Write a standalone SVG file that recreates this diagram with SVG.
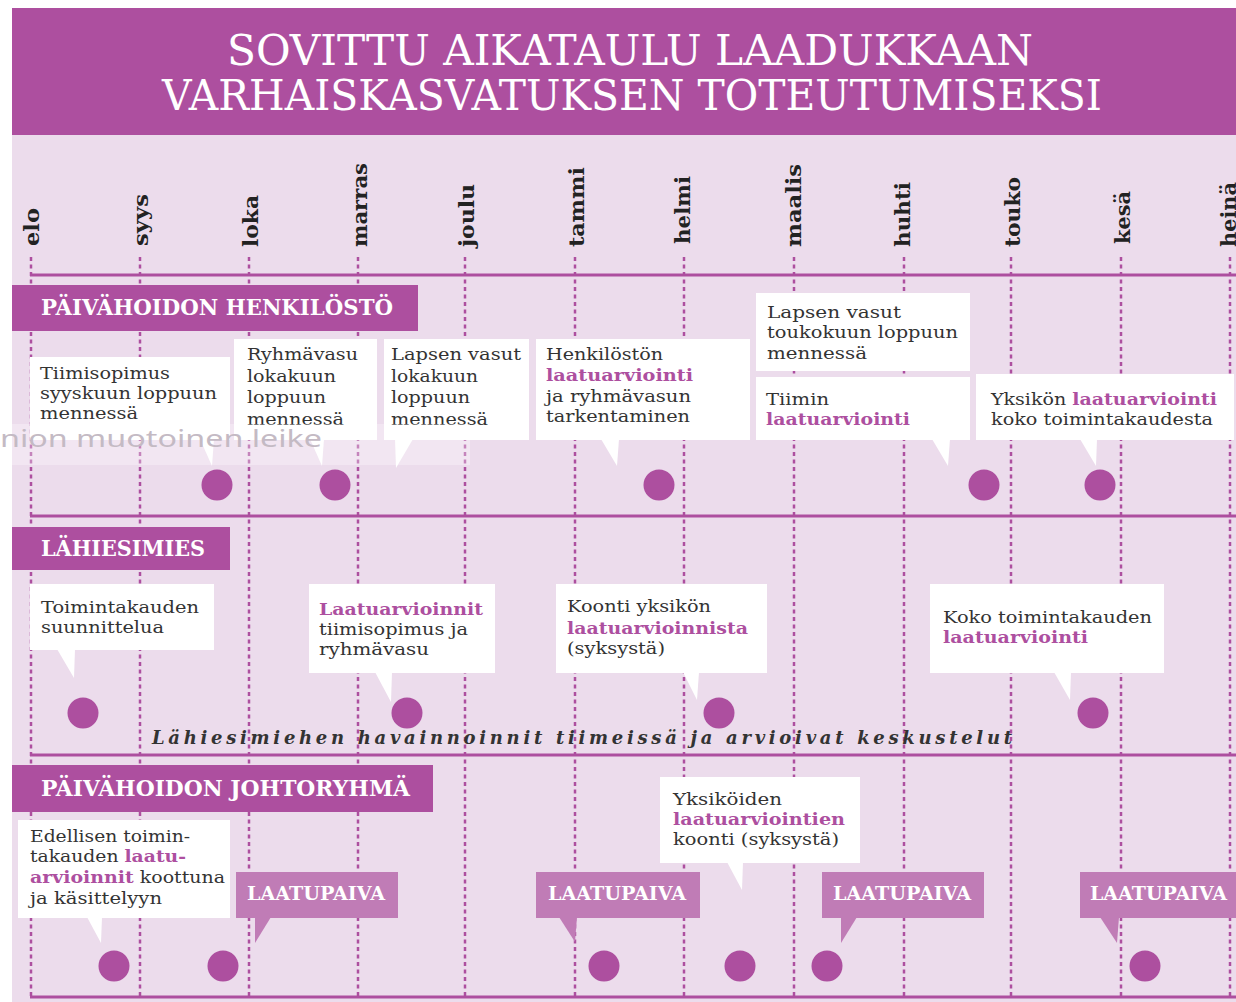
<svg xmlns="http://www.w3.org/2000/svg" width="1236" height="1002" viewBox="0 0 1236 1002">
<style>
.title{font-family:"DejaVu Serif","Liberation Serif",serif;font-size:42px;fill:#fff}
.month{font-family:"DejaVu Serif","Liberation Serif",serif;font-size:20px;font-weight:bold;fill:#222}
.sec{font-family:"DejaVu Serif","Liberation Serif",serif;font-size:22px;font-weight:bold;fill:#fff}
.lp{font-family:"DejaVu Serif","Liberation Serif",serif;font-size:19px;font-weight:bold;fill:#fff}
.t{font-family:"DejaVu Serif","Liberation Serif",serif;font-size:16px;fill:#333}
.h{fill:#ad4f9f;font-weight:bold}
.box{fill:#fff}
.lbl{fill:#ad4f9f}
.lpbg{fill:#c07cb6}
.dot{fill:#ad4f9f}
.vl{stroke:#ad4f9f;stroke-width:2.5;stroke-dasharray:4 3.5;fill:none}
.hl{stroke:#ad4f9f;stroke-width:3;fill:none}
.it{font-family:"DejaVu Serif","Liberation Serif",serif;font-size:18px;font-weight:bold;font-style:italic;fill:#333}
</style>
<rect x="0" y="0" width="1236" height="1002" fill="#fff"/>
<rect x="12" y="135" width="1224" height="867" fill="#ecdcec"/>
<g id="header">
<rect x="12" y="8" width="1224" height="127" fill="#ad4f9f"/>
<text class="title" x="227" y="65" textLength="806" lengthAdjust="spacingAndGlyphs">SOVITTU AIKATAULU LAADUKKAAN</text>
<text class="title" x="162" y="110" textLength="940" lengthAdjust="spacingAndGlyphs">VARHAISKASVATUKSEN TOTEUTUMISEKSI</text>
</g>
<g id="months">
<text class="month" transform="translate(39,246) rotate(-90)" textLength="38" lengthAdjust="spacingAndGlyphs">elo</text>
<text class="month" transform="translate(148,246) rotate(-90)" textLength="52" lengthAdjust="spacingAndGlyphs">syys</text>
<text class="month" transform="translate(258,247) rotate(-90)" textLength="52" lengthAdjust="spacingAndGlyphs">loka</text>
<text class="month" transform="translate(367,247) rotate(-90)" textLength="84" lengthAdjust="spacingAndGlyphs">marras</text>
<text class="month" transform="translate(474,247) rotate(-90)" textLength="63" lengthAdjust="spacingAndGlyphs">joulu</text>
<text class="month" transform="translate(584,247) rotate(-90)" textLength="80" lengthAdjust="spacingAndGlyphs">tammi</text>
<text class="month" transform="translate(690,244) rotate(-90)" textLength="68" lengthAdjust="spacingAndGlyphs">helmi</text>
<text class="month" transform="translate(801,247) rotate(-90)" textLength="83" lengthAdjust="spacingAndGlyphs">maalis</text>
<text class="month" transform="translate(910,247) rotate(-90)" textLength="65" lengthAdjust="spacingAndGlyphs">huhti</text>
<text class="month" transform="translate(1020,247) rotate(-90)" textLength="70" lengthAdjust="spacingAndGlyphs">touko</text>
<text class="month" transform="translate(1130,244) rotate(-90)" textLength="53" lengthAdjust="spacingAndGlyphs">kesä</text>
<text class="month" transform="translate(1236,247) rotate(-90)" textLength="65" lengthAdjust="spacingAndGlyphs">heinä</text>
</g>
<g id="connectors">
<g id="grid-vertical">
<line class="vl" x1="31" y1="257" x2="31" y2="998"/>
<line class="vl" x1="140" y1="257" x2="140" y2="998"/>
<line class="vl" x1="249" y1="257" x2="249" y2="998"/>
<line class="vl" x1="358" y1="257" x2="358" y2="998"/>
<line class="vl" x1="465" y1="257" x2="465" y2="998"/>
<line class="vl" x1="575" y1="257" x2="575" y2="998"/>
<line class="vl" x1="684" y1="257" x2="684" y2="998"/>
<line class="vl" x1="794" y1="257" x2="794" y2="998"/>
<line class="vl" x1="904" y1="257" x2="904" y2="998"/>
<line class="vl" x1="1011" y1="257" x2="1011" y2="998"/>
<line class="vl" x1="1121" y1="257" x2="1121" y2="998"/>
<line class="vl" x1="1230" y1="257" x2="1230" y2="998"/>
</g>
<g id="grid-horizontal">
<line class="hl" x1="30" y1="275" x2="1236" y2="275"/>
<line class="hl" x1="30" y1="516" x2="1236" y2="516"/>
<line class="hl" x1="30" y1="755" x2="1236" y2="755"/>
<line class="hl" x1="30" y1="997" x2="1236" y2="997"/>
</g>
</g>
<g id="sec-henkilosto">
<rect class="lbl" x="12" y="285" width="406" height="46"/>
<text class="sec" x="41" y="315" textLength="352" lengthAdjust="spacingAndGlyphs">PÄIVÄHOIDON HENKILÖSTÖ</text>
</g>
<g id="sec-lahiesimies">
<rect class="lbl" x="12" y="527" width="218" height="43"/>
<text class="sec" x="41" y="556" textLength="164" lengthAdjust="spacingAndGlyphs">LÄHIESIMIES</text>
</g>
<g id="sec-johtoryhma">
<rect class="lbl" x="12" y="765" width="421" height="47"/>
<text class="sec" x="41" y="796" textLength="369" lengthAdjust="spacingAndGlyphs">PÄIVÄHOIDON JOHTORYHMÄ</text>
</g>
<g id="b1">
<rect class="box" x="30" y="357" width="200" height="83"/>
<polygon class="box" points="200,439 214,439 212,466"/>
<text class="t" x="40" y="379" textLength="130" lengthAdjust="spacingAndGlyphs">Tiimisopimus</text>
<text class="t" x="40" y="399" textLength="177" lengthAdjust="spacingAndGlyphs">syyskuun loppuun</text>
<text class="t" x="40" y="419" textLength="98" lengthAdjust="spacingAndGlyphs">mennessä</text>
</g>
<g id="b2">
<rect class="box" x="234" y="339" width="143" height="101"/>
<polygon class="box" points="310,439 324,439 322,466"/>
<text class="t" x="247" y="360" textLength="111" lengthAdjust="spacingAndGlyphs">Ryhmävasu</text>
<text class="t" x="247" y="382" textLength="89" lengthAdjust="spacingAndGlyphs">lokakuun</text>
<text class="t" x="247" y="403" textLength="79" lengthAdjust="spacingAndGlyphs">loppuun</text>
<text class="t" x="247" y="425" textLength="97" lengthAdjust="spacingAndGlyphs">mennessä</text>
</g>
<g id="b3">
<rect class="box" x="384" y="339" width="145" height="101"/>
<polygon class="box" points="395,439 413,439 396,468"/>
<text class="t" x="391" y="360" textLength="130" lengthAdjust="spacingAndGlyphs">Lapsen vasut</text>
<text class="t" x="391" y="382" textLength="87" lengthAdjust="spacingAndGlyphs">lokakuun</text>
<text class="t" x="391" y="403" textLength="79" lengthAdjust="spacingAndGlyphs">loppuun</text>
<text class="t" x="391" y="425" textLength="97" lengthAdjust="spacingAndGlyphs">mennessä</text>
</g>
<g id="b4">
<rect class="box" x="536" y="339" width="214" height="101"/>
<polygon class="box" points="601,439 619,439 617,466"/>
<text class="t" x="546" y="360" textLength="117" lengthAdjust="spacingAndGlyphs">Henkilöstön</text>
<text class="t h" x="546" y="381" textLength="147" lengthAdjust="spacingAndGlyphs">laatuarviointi</text>
<text class="t" x="546" y="402" textLength="145" lengthAdjust="spacingAndGlyphs">ja ryhmävasun</text>
<text class="t" x="546" y="422" textLength="144" lengthAdjust="spacingAndGlyphs">tarkentaminen</text>
</g>
<g id="b5">
<rect class="box" x="756" y="293" width="214" height="78"/>
<text class="t" x="767" y="318" textLength="134" lengthAdjust="spacingAndGlyphs">Lapsen vasut</text>
<text class="t" x="767" y="338" textLength="191" lengthAdjust="spacingAndGlyphs">toukokuun loppuun</text>
<text class="t" x="767" y="359" textLength="100" lengthAdjust="spacingAndGlyphs">mennessä</text>
</g>
<g id="b6">
<rect class="box" x="756" y="377" width="214" height="63"/>
<polygon class="box" points="932,439 950,439 948,466"/>
<text class="t" x="766" y="405" textLength="63" lengthAdjust="spacingAndGlyphs">Tiimin</text>
<text class="t h" x="766" y="425" textLength="144" lengthAdjust="spacingAndGlyphs">laatuarviointi</text>
</g>
<g id="b7">
<rect class="box" x="976" y="374" width="258" height="66"/>
<polygon class="box" points="1080,439 1097,439 1096,466"/>
<text class="t" x="991" y="405" textLength="226" lengthAdjust="spacingAndGlyphs">Yksikön <tspan class="h">laatuarviointi</tspan></text>
<text class="t" x="991" y="425" textLength="222" lengthAdjust="spacingAndGlyphs">koko toimintakaudesta</text>
</g>
<g id="watermark">
<rect x="0" y="424" width="470" height="41" fill="#fff" fill-opacity="0.3"/>
<text x="0" y="447" font-family="'Noto Sans','DejaVu Sans',sans-serif" font-size="24" fill="#c4bac4" textLength="322" lengthAdjust="spacingAndGlyphs">nion muotoinen leike</text>
</g>
<g id="dots-1">
<circle class="dot" cx="217" cy="485" r="15.5"/>
<circle class="dot" cx="335" cy="485" r="15.5"/>
<circle class="dot" cx="659" cy="485" r="15.5"/>
<circle class="dot" cx="984" cy="485" r="15.5"/>
<circle class="dot" cx="1100" cy="485" r="15.5"/>
</g>
<g id="c1">
<rect class="box" x="30" y="584" width="184" height="66"/>
<polygon class="box" points="57,649 75,649 74,678"/>
<text class="t" x="41" y="613" textLength="158" lengthAdjust="spacingAndGlyphs">Toimintakauden</text>
<text class="t" x="41" y="633" textLength="123" lengthAdjust="spacingAndGlyphs">suunnittelua</text>
</g>
<g id="c2">
<rect class="box" x="309" y="584" width="186" height="89"/>
<polygon class="box" points="375,672 392,672 391,702"/>
<text class="t h" x="319" y="615" textLength="164" lengthAdjust="spacingAndGlyphs">Laatuarvioinnit</text>
<text class="t" x="319" y="635" textLength="149" lengthAdjust="spacingAndGlyphs">tiimisopimus ja</text>
<text class="t" x="319" y="655" textLength="110" lengthAdjust="spacingAndGlyphs">ryhmävasu</text>
</g>
<g id="c3">
<rect class="box" x="556" y="584" width="211" height="89"/>
<polygon class="box" points="683,672 699,672 697,700"/>
<text class="t" x="567" y="612" textLength="144" lengthAdjust="spacingAndGlyphs">Koonti yksikön</text>
<text class="t h" x="567" y="634" textLength="181" lengthAdjust="spacingAndGlyphs">laatuarvioinnista</text>
<text class="t" x="567" y="654" textLength="98" lengthAdjust="spacingAndGlyphs">(syksystä)</text>
</g>
<g id="c4">
<rect class="box" x="930" y="584" width="234" height="89"/>
<polygon class="box" points="1054,672 1071,672 1070,700"/>
<text class="t" x="943" y="623" textLength="209" lengthAdjust="spacingAndGlyphs">Koko toimintakauden</text>
<text class="t h" x="943" y="643" textLength="145" lengthAdjust="spacingAndGlyphs">laatuarviointi</text>
</g>
<g id="dots-2">
<circle class="dot" cx="83" cy="713" r="15.5"/>
<circle class="dot" cx="407" cy="713" r="15.5"/>
<circle class="dot" cx="719" cy="713" r="15.5"/>
<circle class="dot" cx="1093" cy="713" r="15.5"/>
</g>
<text id="observations" class="it" x="152" y="744" textLength="860" lengthAdjust="spacing">Lähiesimiehen havainnoinnit tiimeissä ja arvioivat keskustelut</text>
<g id="d1">
<rect class="box" x="18" y="820" width="212" height="98"/>
<polygon class="box" points="87,917 102,917 101,943"/>
<text class="t" x="30" y="842" textLength="160" lengthAdjust="spacingAndGlyphs">Edellisen toimin-</text>
<text class="t" x="30" y="862" textLength="156" lengthAdjust="spacingAndGlyphs">takauden <tspan class="h">laatu-</tspan></text>
<text class="t" x="30" y="883" textLength="195" lengthAdjust="spacingAndGlyphs"><tspan class="h">arvioinnit</tspan> koottuna</text>
<text class="t" x="30" y="904" textLength="132" lengthAdjust="spacingAndGlyphs">ja käsittelyyn</text>
</g>
<g id="lp1">
<rect class="lpbg" x="236" y="872" width="162" height="46"/>
<polygon class="lpbg" points="255,917 271,917 255,943"/>
<text class="lp" x="247" y="900" textLength="138" lengthAdjust="spacingAndGlyphs">LAATUPAIVA</text>
</g>
<g id="lp2">
<rect class="lpbg" x="536" y="872" width="164" height="46"/>
<polygon class="lpbg" points="559,917 577,917 575,942"/>
<text class="lp" x="548" y="900" textLength="138" lengthAdjust="spacingAndGlyphs">LAATUPAIVA</text>
</g>
<g id="d2">
<rect class="box" x="660" y="777" width="200" height="86"/>
<polygon class="box" points="727,862 743,862 742,890"/>
<text class="t" x="673" y="805" textLength="109" lengthAdjust="spacingAndGlyphs">Yksiköiden</text>
<text class="t h" x="673" y="825" textLength="172" lengthAdjust="spacingAndGlyphs">laatuarviointien</text>
<text class="t" x="673" y="845" textLength="166" lengthAdjust="spacingAndGlyphs">koonti (syksystä)</text>
</g>
<g id="lp3">
<rect class="lpbg" x="822" y="872" width="162" height="46"/>
<polygon class="lpbg" points="841,917 857,917 841,943"/>
<text class="lp" x="833" y="900" textLength="138" lengthAdjust="spacingAndGlyphs">LAATUPAIVA</text>
</g>
<g id="lp4">
<rect class="lpbg" x="1080" y="872" width="156" height="46"/>
<polygon class="lpbg" points="1100,917 1119,917 1117,943"/>
<text class="lp" x="1090" y="900" textLength="137" lengthAdjust="spacingAndGlyphs">LAATUPAIVA</text>
</g>
<g id="dots-3">
<circle class="dot" cx="114" cy="966" r="15.5"/>
<circle class="dot" cx="223" cy="966" r="15.5"/>
<circle class="dot" cx="604" cy="966" r="15.5"/>
<circle class="dot" cx="740" cy="966" r="15.5"/>
<circle class="dot" cx="827" cy="966" r="15.5"/>
<circle class="dot" cx="1145" cy="966" r="15.5"/>
</g>
</svg>
